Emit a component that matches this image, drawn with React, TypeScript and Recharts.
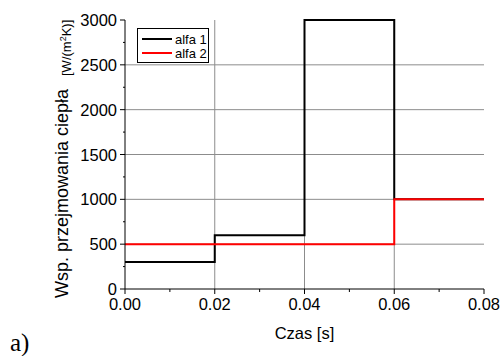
import React from 'react';
import { LineChart, Line, XAxis, YAxis, CartesianGrid, Legend } from 'recharts';

const timePoints = [0, 0.02, 0.04, 0.06, 0.08];
const alfa1 = [300, 600, 3000, 1000, 1000];
const alfa2 = [500, 500, 500, 1000, 1000];

const xAllTicks = [0, 0.01, 0.02, 0.03, 0.04, 0.05, 0.06, 0.07, 0.08];
const xMajorTicks = [0, 0.02, 0.04, 0.06, 0.08];
const yAllTicks = [0, 250, 500, 750, 1000, 1250, 1500, 1750, 2000, 2250, 2500, 2750, 3000];
const yMajorTicks = [0, 500, 1000, 1500, 2000, 2500, 3000];
const xGridValues = [0.02, 0.04, 0.06];
const yGridValues = [500, 1000, 1500, 2000, 2500];

const seriesNames = ['alfa 1', 'alfa 2'];
const seriesColors = ['#000000', '#ff0000'];

const data = timePoints.map((t, i) => ({ t, a1: alfa1[i], a2: alfa2[i] }));

const FONT = '"Liberation Sans", Arial, sans-serif';

const BottomTick = (props: any) => {
  const { x, y, payload } = props;
  const major = xMajorTicks.includes(payload.value);
  return (
    <g>
      <line x1={x} y1={y} x2={x} y2={y + (major ? 5 : 3)} stroke="#000" strokeWidth={1} />
      {major && (
        <text x={x} y={y + 21} textAnchor="middle" fontSize={16.5} fontFamily={FONT} fill="#000">
          {payload.value.toFixed(2)}
        </text>
      )}
    </g>
  );
};

const TopTick = (props: any) => {
  const { x, y, payload } = props;
  const major = xMajorTicks.includes(payload.value);
  return <line x1={x} y1={y} x2={x} y2={y - (major ? 5 : 3)} stroke="#000" strokeWidth={1} />;
};

const LeftTick = (props: any) => {
  const { x, y, payload } = props;
  const major = yMajorTicks.includes(payload.value);
  return (
    <g>
      <line x1={x} y1={y} x2={x - (major ? 5 : 2)} y2={y} stroke="#000" strokeWidth={1} />
      {major && (
        <text x={x - 8} y={y + 6} textAnchor="end" fontSize={16.5} fontFamily={FONT} fill="#000">
          {payload.value}
        </text>
      )}
    </g>
  );
};

const RightTick = (props: any) => {
  const { x, y } = props;
  return <line x1={x - 1} y1={y} x2={x + 2} y2={y} stroke="#000" strokeWidth={1} />;
};

const renderLegend = (props: any) => {
  const payload = props.payload || [];
  return (
    <svg width={72} height={35} style={{ display: 'block' }}>
      <rect x={0.5} y={0.5} width={71} height={34} fill="#fff" stroke="#000" strokeWidth={1} />
      {payload.map((p: any, i: number) => (
        <g key={i}>
          <line x1={5} x2={35} y1={11 + 14 * i} y2={11 + 14 * i} stroke={p.color} strokeWidth={2} />
          <text x={38} y={15.5 + 14 * i} fontSize={13} fontFamily={FONT} fill="#000">
            {p.value}
          </text>
        </g>
      ))}
    </svg>
  );
};

export default function App() {
  return (
    <div style={{ position: 'absolute', left: 0, top: 0, width: 503, height: 356, background: '#fff' }}>
      <LineChart
        width={503}
        height={356}
        data={data}
        margin={{ top: 20, right: 19, bottom: 27, left: 65 }}
      >
        <CartesianGrid
          stroke="#8c8c8c"
          strokeWidth={1}
          horizontalValues={yGridValues}
          verticalValues={xGridValues}
        />
        <XAxis
          dataKey="t"
          type="number"
          domain={[0, 0.08]}
          ticks={xAllTicks}
          interval={0}
          height={40}
          tickSize={0}
          tickMargin={0}
          tickLine={false}
          axisLine={{ stroke: '#000', strokeWidth: 1 }}
          tick={(p: any) => <BottomTick {...p} />}
        />
        <XAxis
          xAxisId="top"
          orientation="top"
          type="number"
          domain={[0, 0.08]}
          ticks={xAllTicks}
          interval={0}
          height={0}
          tickSize={0}
          tickMargin={0}
          tickLine={false}
          axisLine={{ stroke: '#000', strokeWidth: 1 }}
          tick={(p: any) => <TopTick {...p} />}
        />
        <YAxis
          type="number"
          domain={[0, 3000]}
          ticks={yAllTicks}
          interval={0}
          width={60}
          tickSize={0}
          tickMargin={0}
          tickLine={false}
          axisLine={{ stroke: '#000', strokeWidth: 1 }}
          tick={(p: any) => <LeftTick {...p} />}
        />
        <YAxis
          yAxisId="right"
          orientation="right"
          type="number"
          domain={[0, 3000]}
          ticks={yAllTicks}
          interval={0}
          width={0}
          tickSize={0}
          tickMargin={0}
          tickLine={false}
          axisLine={{ stroke: '#000', strokeWidth: 1 }}
          tick={(p: any) => <RightTick {...p} />}
        />
        <Legend
          layout="vertical"
          align="center"
          verticalAlign="middle"
          wrapperStyle={{ left: 137, top: 28, width: 72, height: 35 }}
          content={renderLegend}
        />
        <Line
          type="stepAfter"
          dataKey="a1"
          name={seriesNames[0]}
          stroke={seriesColors[0]}
          strokeWidth={2}
          dot={false}
          isAnimationActive={false}
        />
        <Line
          type="stepAfter"
          dataKey="a2"
          name={seriesNames[1]}
          stroke={seriesColors[1]}
          strokeWidth={2}
          dot={false}
          isAnimationActive={false}
        />
      </LineChart>
      <svg
        width={503}
        height={356}
        style={{ position: 'absolute', left: 0, top: 0, pointerEvents: 'none' }}
      >
        <text x={304.5} y={339} textAnchor="middle" fontSize={16.5} fontFamily={FONT} fill="#000">
          Czas [s]
        </text>
        <text
          x={68}
          y={298}
          transform="rotate(-90, 68, 298)"
          fontSize={18}
          fontFamily={FONT}
          fill="#000"
        >
          Wsp. przejmowania ciepła
        </text>
        <text
          x={71}
          y={76}
          transform="rotate(-90, 71, 76)"
          fontSize={13}
          fontFamily={FONT}
          fill="#000"
        >
          [W/(m<tspan fontSize={9} dy={-5}>2</tspan>
          <tspan dy={5}>K)]</tspan>
        </text>
        <text x={10} y={351} fontSize={25} fontFamily='"Liberation Serif", "Times New Roman", serif' fill="#000">
          a)
        </text>
      </svg>
    </div>
  );
}
